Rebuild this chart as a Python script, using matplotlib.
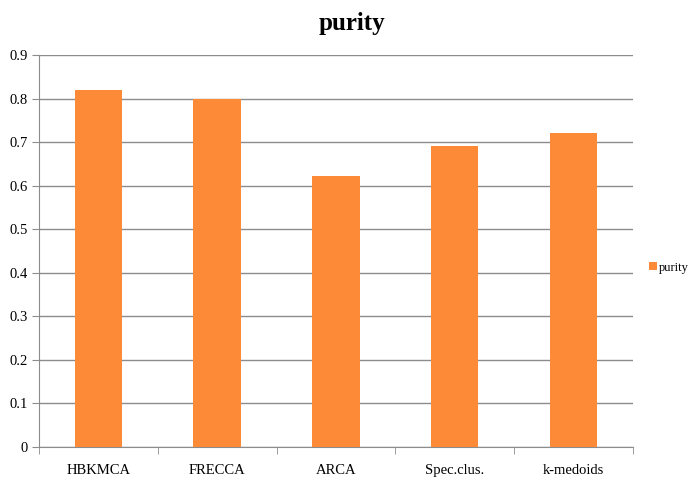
import matplotlib.pyplot as plt
import numpy as np

methods = ["HBKMCA", "FRECCA", "ARCA", "Spec.clus.", "k-medoids"]
purity = [0.82, 0.80, 0.622, 0.69, 0.72]

plt.rcParams['font.family'] = ['Liberation Serif', 'DejaVu Serif']

fig = plt.figure(figsize=(6.89, 4.82), dpi=100)
ax = fig.add_axes([0.0566, 0.0726, 0.862, 0.8134])

x = np.arange(len(methods))
ax.bar(x, purity, width=0.4, color='#fd8a36', label='purity', zorder=3)

ax.set_xlim(-0.5, len(methods) - 0.5)
ax.set_ylim(0, 0.9)
ax.set_yticks(np.arange(0, 0.91, 0.1))
ax.set_yticklabels(['0'] + ['%.1f' % v for v in np.arange(0.1, 0.91, 0.1)])
ax.yaxis.grid(True, color='#8c8c8c', linewidth=1.0, zorder=0)

# category labels centred, tick marks between categories
ax.set_xticks(x)
ax.set_xticklabels(methods)
ax.tick_params(axis='x', length=0, pad=12, labelsize=10.5)
ax.set_xticks(np.arange(-0.5, len(methods)), minor=True)
ax.tick_params(axis='x', which='minor', length=5, color='#8c8c8c')
ax.tick_params(axis='y', length=5, color='#8c8c8c', labelsize=10.5, pad=3)

for side in ['top', 'right']:
    ax.spines[side].set_visible(False)
ax.spines['left'].set_color('#8c8c8c')
ax.spines['bottom'].set_color('#8c8c8c')

fig.text(0.511, 0.952, 'purity', fontsize=18, fontweight='bold',
         ha='center', va='center')

fig.legend(loc='center left', bbox_to_anchor=(0.935, 0.445), frameon=False,
           fontsize=9, handlelength=0.6, handleheight=0.6, handletextpad=0.2,
           borderaxespad=0)

fig.savefig('out.png', dpi=100)
